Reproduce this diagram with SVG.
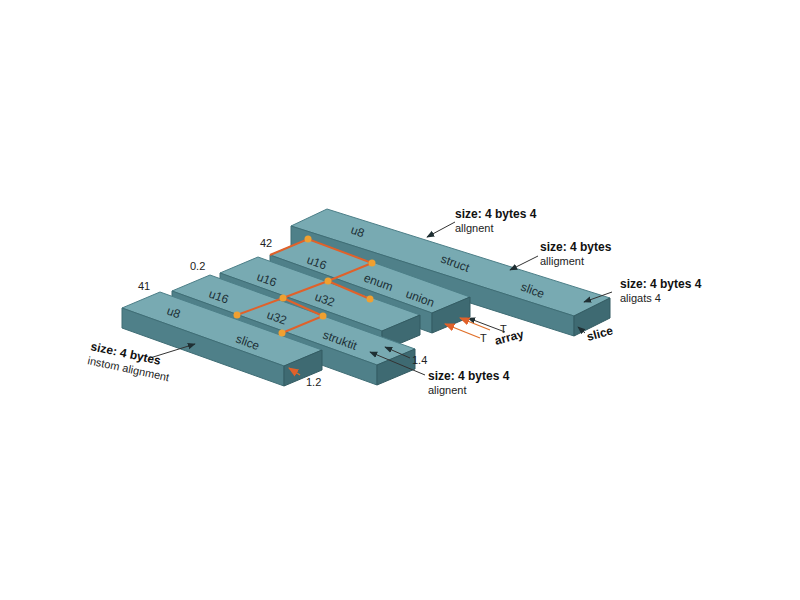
<svg xmlns="http://www.w3.org/2000/svg" width="800" height="600" viewBox="0 0 800 600">
<defs>
<style>
.top{fill:#78aab2;stroke:#4d7f88;stroke-width:1}
.front{fill:#4f8089;stroke:#3f6d75;stroke-width:1}
.end{fill:#3e6a72;stroke:#335b62;stroke-width:1}
.lbl{font-family:"Liberation Sans",Arial,sans-serif;font-size:12px;fill:#1d3036}
.note{font-family:"Liberation Sans",Arial,sans-serif;font-size:11px;fill:#222}
.noteb{font-family:"Liberation Sans",Arial,sans-serif;font-size:12px;fill:#111;font-weight:bold}
.or{stroke:#e0612a;stroke-width:2;fill:none}
.dot{fill:#f0a030}
.ar{stroke:#333;stroke-width:1;fill:none;marker-end:url(#ah)}
.ao{stroke:#e0702a;stroke-width:1.3;fill:none;marker-end:url(#ao)}
</style>
<marker id="ah" viewBox="0 0 10 10" refX="9" refY="5" markerWidth="8" markerHeight="8" orient="auto"><path d="M0,1 L10,5 L0,9 Z" fill="#1f2f33"/></marker>
<marker id="ao" viewBox="0 0 10 10" refX="9" refY="5" markerWidth="8" markerHeight="8" orient="auto"><path d="M0,1 L10,5 L0,9 Z" fill="#e0612a"/></marker>
</defs>
<rect width="800" height="600" fill="#fff"/>
<g id="long-bar">
<polygon class="top" points="327,209 610,298 574,316 291,226"/>
<polygon class="front" points="291,226 574,316 574,336 291,246"/>
<polygon class="end" points="574,316 610,298 610,318 574,336"/>
<text class="lbl" transform="translate(350,233) rotate(20)">u8</text>
<text class="lbl" transform="translate(440,262) rotate(20)">struct</text>
<text class="lbl" transform="translate(520,290) rotate(20)">slice</text>
</g>
<g id="bar-d">
<polygon class="top" points="308,239 470,297 432,313 270,255"/>
<polygon class="front" points="270,255 432,313 432,333 270,275"/>
<polygon class="end" points="432,313 470,297 470,317 432,333"/>
<text class="lbl" transform="translate(306,263) rotate(20)">u16</text>
<text class="lbl" transform="translate(363,281) rotate(20)">enum</text>
<text class="lbl" transform="translate(405,297) rotate(20)">union</text>
</g>
<g id="bar-c">
<polygon class="top" points="258,257 420,315 382,331 220,273"/>
<polygon class="front" points="220,273 382,331 382,351 220,293"/>
<polygon class="end" points="382,331 420,315 420,335 382,351"/>
<text class="lbl" transform="translate(256,280) rotate(20)">u16</text>
<text class="lbl" transform="translate(314,300) rotate(20)">u32</text>
</g>
<g id="bar-b">
<polygon class="top" points="210,275 415,349 377,365 172,291"/>
<polygon class="front" points="172,291 377,365 377,385 172,311"/>
<polygon class="end" points="377,365 415,349 415,369 377,385"/>
<text class="lbl" transform="translate(208,297) rotate(20)">u16</text>
<text class="lbl" transform="translate(266,318) rotate(20)">u32</text>
<text class="lbl" transform="translate(322,338) rotate(20)">struktit</text>
</g>
<g id="bar-a">
<polygon class="top" points="160,292 322,350 284,366 122,308"/>
<polygon class="front" points="122,308 284,366 284,386 122,328"/>
<polygon class="end" points="284,366 322,350 322,370 284,386"/>
<text class="lbl" transform="translate(166,314) rotate(20)">u8</text>
<text class="lbl" transform="translate(235,342) rotate(20)">slice</text>
</g>
<g id="grid">
<polyline class="or" points="270,255 308,239 372,263 328,281 283,298 237,315"/>
<line class="or" x1="328" y1="281" x2="370" y2="299"/>
<polyline class="or" points="283,298 323,316 282,333"/>
<circle class="dot" cx="308" cy="239" r="3.5"/><circle class="dot" cx="372" cy="263" r="3.5"/>
<circle class="dot" cx="328" cy="281" r="3.5"/><circle class="dot" cx="370" cy="299" r="3.5"/>
<circle class="dot" cx="283" cy="298" r="3.5"/><circle class="dot" cx="323" cy="316" r="3.5"/>
<circle class="dot" cx="237" cy="315" r="3.5"/><circle class="dot" cx="282" cy="333" r="3.5"/>
</g>
<g id="connectors">
<line class="ar" x1="455" y1="222" x2="427" y2="237"/>
<line class="ar" x1="538" y1="256" x2="510" y2="270"/>
<line class="ar" x1="612" y1="292" x2="584" y2="302"/>
<line class="ar" x1="150" y1="358" x2="195" y2="344"/>
<line class="ar" x1="425" y1="375" x2="370" y2="352"/>
<line class="ar" x1="410" y1="358" x2="385" y2="347"/>
<line class="ar" x1="585" y1="333" x2="578" y2="327"/>
<line class="ar" x1="505" y1="332" x2="468" y2="318"/>
<line class="ao" x1="300" y1="375" x2="289" y2="368"/>
<line class="ao" x1="480" y1="338" x2="445" y2="324"/>
<line class="ao" x1="490" y1="330" x2="460" y2="318"/>
</g>
<g id="labels">
<text class="note" x="260" y="247">42</text>
<text class="note" x="190" y="270">0.2</text>
<text class="note" x="138" y="290">41</text>
<text class="noteb" x="455" y="218">size: 4 bytes 4</text>
<text class="note" x="455" y="232">allgnent</text>
<text class="noteb" x="540" y="251">size: 4 bytes</text>
<text class="note" x="540" y="265">alligment</text>
<text class="noteb" x="620" y="288">size: 4 bytes 4</text>
<text class="note" x="620" y="302" fill="#555">aligats 4</text>
<text class="noteb" transform="translate(588,341) rotate(-15)">slice</text>
<text class="noteb" transform="translate(90,350) rotate(12)">size: 4 bytes</text>
<text class="note" transform="translate(87,364) rotate(12)">instom alignment</text>
<text class="note" x="306" y="386">1.2</text>
<text class="note" x="412" y="364">1.4</text>
<text class="noteb" x="428" y="380">size: 4 bytes 4</text>
<text class="note" x="428" y="394">alignent</text>
<text class="noteb" transform="translate(496,345) rotate(-15)">array</text>
<text class="note" x="480" y="342" font-size="9">T</text>
<text class="note" x="500" y="333" font-size="9">T</text>
</g>
</svg>
